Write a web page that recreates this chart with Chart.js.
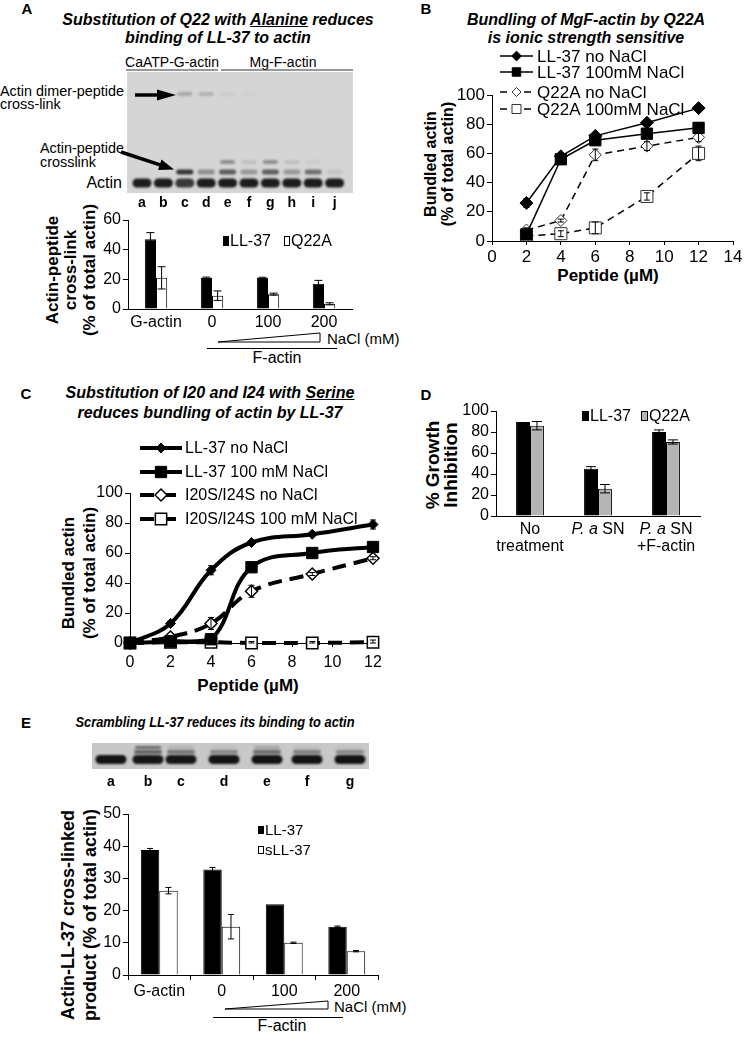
<!DOCTYPE html>
<html>
<head>
<meta charset="utf-8">
<title>LL-37 / actin figure</title>
<script src="https://cdn.jsdelivr.net/npm/chart.js@4.4.1/dist/chart.umd.min.js"></script>
<style>
  body { margin:0; width:745px; height:1037px; position:relative; overflow:hidden; background:#fff; color:#000;
         font-family:'Liberation Sans', Arial, sans-serif; }
  .c { position:absolute; white-space:nowrap; line-height:1; transform:translate(-50%,-50%); }
  .l { position:absolute; white-space:nowrap; line-height:1; transform:translateY(-50%); }
  .r { position:absolute; white-space:nowrap; line-height:1; transform:translate(-100%,-50%); }
  .yt { position:absolute; white-space:nowrap; line-height:1; font-weight:bold;
        transform:translate(-50%,-50%) rotate(-90deg); }
  .ttl { font-weight:bold; font-style:italic; font-size:16px; }
  .pl { font-weight:bold; font-size:15px; }
  .lane { font-weight:bold; font-size:14px; }
  canvas, svg { position:absolute; }
</style>
</head>
<body>

<!-- panel letters and titles -->
<div class="c pl" style="left:27px;top:8px">A</div>
<div class="c pl" style="left:426px;top:8px">B</div>
<div class="c pl" style="left:26px;top:393px">C</div>
<div class="c pl" style="left:426px;top:394px">D</div>
<div class="c pl" style="left:26px;top:722px">E</div>

<div class="c ttl" style="left:218px;top:20px">Substitution of Q22 with <u>Alanine</u> reduces</div>
<div class="c ttl" style="left:218px;top:38px">binding of LL-37 to actin</div>
<div class="c ttl" style="left:586px;top:20px">Bundling of MgF-actin by Q22A</div>
<div class="c ttl" style="left:586px;top:38px">is ionic strength sensitive</div>
<div class="c ttl" style="left:210px;top:393px">Substitution of I20 and I24 with <u>Serine</u></div>
<div class="c ttl" style="left:210px;top:413px">reduces bundling of actin by LL-37</div>
<div class="c ttl" style="left:215px;top:722px;font-size:14px;transform:translate(-50%,-50%) scaleX(0.92)">Scrambling LL-37 reduces its binding to actin</div>

<!-- gel A labels -->
<div class="c" style="left:172px;top:62px;font-size:14px">CaATP-G-actin</div>
<div class="c" style="left:283px;top:62px;font-size:14px">Mg-F-actin</div>
<div class="l" style="left:0px;top:91px;font-size:14.4px">Actin dimer-peptide</div>
<div class="l" style="left:0px;top:104px;font-size:14.4px">cross-link</div>
<div class="l" style="left:40px;top:148px;font-size:14.4px">Actin-peptide</div>
<div class="l" style="left:40px;top:162px;font-size:14.4px">crosslink</div>
<div class="r" style="left:122px;top:183px;font-size:16px">Actin</div>

<!-- axis titles -->
<div class="yt" style="left:52px;top:270px;font-size:17px">Actin-peptide</div>
<div class="yt" style="left:70px;top:270px;font-size:17px">cross-link</div>
<div class="yt" style="left:89px;top:270px;font-size:17px">(% of total actin)</div>

<div class="yt" style="left:431px;top:164px;font-size:16px">Bundled actin</div>
<div class="yt" style="left:448px;top:164px;font-size:16px">(% of total actin)</div>
<div class="c" style="left:608px;top:275px;font-size:17px;font-weight:bold">Peptide (µM)</div>

<div class="yt" style="left:68px;top:573px;font-size:17px">Bundled actin</div>
<div class="yt" style="left:89px;top:573px;font-size:17px">(% of total actin)</div>
<div class="c" style="left:248px;top:685px;font-size:17px;font-weight:bold">Peptide (µM)</div>

<div class="yt" style="left:432px;top:465px;font-size:19px">% Growth</div>
<div class="yt" style="left:450px;top:465px;font-size:19px">Inhibition</div>

<div class="yt" style="left:68px;top:915px;font-size:18px">Actin-LL-37 cross-linked</div>
<div class="yt" style="left:90px;top:915px;font-size:18px">product (% of total actin)</div>

<!-- NaCl / F-actin annotations -->
<div class="l" style="left:327px;top:338px;font-size:15px">NaCl (mM)</div>
<div class="c" style="left:277px;top:358px;font-size:16px">F-actin</div>
<div class="l" style="left:334px;top:1006px;font-size:15px">NaCl (mM)</div>
<div class="c" style="left:282px;top:1026px;font-size:16px">F-actin</div>

<canvas id="gelA" width="226" height="121" style="left:127px;top:72px"></canvas>
<canvas id="gelE" width="277" height="26" style="left:92px;top:743px"></canvas>

<canvas id="chartA" width="320" height="135" style="left:40px;top:200px"></canvas>
<canvas id="chartB" width="293" height="222" style="left:452px;top:45px"></canvas>
<canvas id="chartC" width="310" height="231" style="left:85px;top:440px"></canvas>
<canvas id="chartD" width="265" height="163" style="left:455px;top:395px"></canvas>
<canvas id="chartE" width="310" height="203" style="left:85px;top:800px"></canvas>

<svg width="745" height="1037" style="left:0;top:0;pointer-events:none">
  <line x1="126" y1="70" x2="218" y2="70" stroke="#333" stroke-width="1"/>
  <line x1="221" y1="70" x2="353" y2="70" stroke="#333" stroke-width="1"/>
  <line x1="135" y1="95" x2="159" y2="95" stroke="#000" stroke-width="3.5"/>
  <polygon points="157,89.5 176,95 157,100.5" fill="#000"/>
  <line x1="121" y1="152" x2="160" y2="164.8" stroke="#000" stroke-width="3.5"/>
  <polygon points="158,170 174,169.5 161.5,159.6" fill="#000"/>
  <polygon points="218,342 320,342 320,333" fill="#fff" stroke="#000" stroke-width="1"/>
  <line x1="207" y1="348.5" x2="337" y2="348.5" stroke="#000" stroke-width="1"/>
  <polygon points="225,1009 328,1009 328,1001" fill="#fff" stroke="#000" stroke-width="1"/>
  <line x1="213" y1="1017.5" x2="343" y2="1017.5" stroke="#000" stroke-width="1"/>
</svg>

<script>
// ===== data =====
// A: actin-peptide cross-link (% of total actin)
const catA = ['G-actin', '0', '100', '200'];
const ll37A = [47, 21, 21, 17];
const ll37AErr = [4.5, 0.5, 0.4, 2.3];
const q22aA = [21, 9, 10, 3.5];
const q22aAErr = [7.5, 3.2, 0.7, 0.7];

// B: bundled actin vs peptide (µM)
const peptideB = [2, 4, 6, 9, 12];
const ll37NoB = [26, 58, 72, 81, 91];
const ll37NoBErr = [3, 1, 1.5, 1, 1];
const ll37SaltB = [4.5, 56, 69, 73.5, 77.5];
const ll37SaltBErr = [1, 1, 1, 1, 1];
const q22aNoB = [7.5, 14, 59, 65, 71];
const q22aNoBErr = [1.5, 1, 4, 3, 3];
const q22aSaltB = [3.5, 5, 9, 30.5, 60];
const q22aSaltBErr = [1, 2, 4, 2.5, 5];
const xTicksB = [0, 14, 2];
const yTicksB = [0, 100, 20];

// C: bundled actin, I20S/I24S
const peptideC = [0, 2, 4, 6, 9, 12];
const ll37NoC = [0, 13, 48.5, 67, 72.5, 79];
const ll37NoCErr = [0, 1.5, 3, 1, 1, 3];
const ll37SaltC = [0, 1, 2.5, 50.5, 60, 64];
const ll37SaltCErr = [0, 0.5, 1, 1, 1, 1];
const i20sNoC = [0, 4, 13, 34.5, 46, 56.5];
const i20sNoCErr = [0, 1, 4, 4, 1, 1];
const i20sSaltC = [0, 0.5, 0.5, 0, 0, 0.5];
const i20sSaltCErr = [0, 0, 0, 1, 1, 1.5];

// D: % growth inhibition
const catD = [['No', 'treatment'], ['P. a SN'], ['P. a SN', '+F-actin']];
const ll37D = [89.5, 45, 80];
const ll37DErr = [0, 2, 2];
const q22aD = [86, 26, 70.5];
const q22aDErr = [4, 4, 2];

// E: actin-LL-37 cross-linked product
const catE = ['G-actin', '0', '100', '200'];
const ll37E = [38.8, 32.8, 22, 15];
const ll37EErr = [0.5, 0.6, 0, 0.2];
const sll37E = [26.2, 15, 10, 7.4];
const sll37EErr = [1, 3.8, 0.2, 0.2];

// gel band intensities (0..1)
const gelALanes = ['a', 'b', 'c', 'd', 'e', 'f', 'g', 'h', 'i', 'j'];
const gelAActin = [0.92, 0.92, 0.78, 0.92, 0.92, 0.92, 0.92, 0.92, 0.92, 0.92];
const gelAXlink = [0, 0, 0.8, 0.35, 0.6, 0.3, 0.6, 0.3, 0.5, 0.08];
const gelAUpper = [0, 0, 0, 0, 0.35, 0.1, 0.35, 0.1, 0.05, 0];
const gelADimer = [0, 0, 0.22, 0.18, 0.05, 0.03, 0, 0, 0, 0];

const gelELanes = ['a', 'b', 'c', 'd', 'e', 'f', 'g'];
const gelEMain = [0.97, 0.95, 0.95, 0.97, 0.97, 0.97, 0.97];
const gelESecond = [0, 0.55, 0.45, 0.35, 0.5, 0.4, 0.35];
const gelETop = [0, 0.5, 0.12, 0.05, 0.2, 0.06, 0.03];

// ===== gels =====
function band(ctx, cx, cy, w, h, a) {
  if (a <= 0) return;
  ctx.save();
  ctx.filter = 'blur(1px)';
  ctx.fillStyle = 'rgba(12,12,12,' + a + ')';
  ctx.beginPath();
  if (ctx.roundRect) ctx.roundRect(cx - w / 2, cy - h / 2, w, h, h / 2);
  else ctx.ellipse(cx, cy, w / 2, h / 2, 0, 0, Math.PI * 2);
  ctx.fill();
  ctx.restore();
}

function laneLabel(txt, x, y) {
  const d = document.createElement('div');
  d.className = 'c lane';
  d.style.left = x + 'px';
  d.style.top = y + 'px';
  d.textContent = txt;
  document.body.appendChild(d);
}

(function drawGelA() {
  const ctx = document.getElementById('gelA').getContext('2d');
  ctx.fillStyle = '#d5d5d5';
  ctx.fillRect(0, 0, 226, 121);
  gelALanes.forEach((lane, i) => {
    const x = 15 + i * 21.4;
    band(ctx, x, 111, 19, 9, gelAActin[i]);
    band(ctx, x, 100, 17, 5, gelAXlink[i]);
    band(ctx, x, 90, 15, 4, gelAUpper[i]);
    band(ctx, x, 22, 15, 4, gelADimer[i]);
    laneLabel(lane, 127 + x, 202);
  });
})();

(function drawGelE() {
  const ctx = document.getElementById('gelE').getContext('2d');
  const laneX = [19, 56, 89, 132, 175, 215, 258];
  ctx.fillStyle = '#c8c8c8';
  ctx.fillRect(0, 0, 277, 26);
  gelELanes.forEach((lane, i) => {
    band(ctx, laneX[i], 16.5, 31, 9, gelEMain[i]);
    band(ctx, laneX[i], 9, 28, 4, gelESecond[i]);
    band(ctx, laneX[i], 4.5, 26, 3, gelETop[i]);
    laneLabel(lane, 92 + laneX[i], 781);
  });
})();

// ===== chart helpers =====
Chart.defaults.font.family = "'Liberation Sans', Arial, sans-serif";
Chart.defaults.color = '#000';

const pts = (xs, ys) => xs.map((x, i) => ({ x: x, y: ys[i] }));

function drawMarker(ctx, ds, x, y) {
  const opts = { pointStyle: ds.pointStyle, radius: ds.pointRadius, rotation: 0, borderWidth: ds.pointBorderWidth };
  if (Chart.helpers && Chart.helpers.drawPoint) {
    Chart.helpers.drawPoint(ctx, opts, x, y);
    return;
  }
  const r = ds.pointRadius;
  ctx.beginPath();
  if (ds.pointStyle === 'rect') {
    const s = r * Math.SQRT1_2;
    ctx.rect(x - s, y - s, 2 * s, 2 * s);
  } else {
    ctx.moveTo(x - r, y); ctx.lineTo(x, y - r); ctx.lineTo(x + r, y); ctx.lineTo(x, y + r); ctx.closePath();
  }
  ctx.fill();
  ctx.stroke();
}

const errorBars = {
  id: 'errorBars',
  afterDatasetsDraw(chart, args, opts) {
    const ctx = chart.ctx, ys = chart.scales.y;
    const cap = (opts && opts.cap) || 4;
    chart.data.datasets.forEach((ds, i) => {
      if (!ds.errors) return;
      const meta = chart.getDatasetMeta(i);
      ctx.save();
      ctx.strokeStyle = '#000';
      ctx.lineWidth = 1;
      meta.data.forEach((el, j) => {
        const e = ds.errors[j];
        if (!e) return;
        const raw = ds.data[j];
        const v = typeof raw === 'object' ? raw.y : raw;
        const top = ys.getPixelForValue(v + e);
        const bot = ys.getPixelForValue(Math.max(v - e, 0));
        ctx.beginPath();
        ctx.moveTo(el.x, top); ctx.lineTo(el.x, bot);
        ctx.moveTo(el.x - cap, top); ctx.lineTo(el.x + cap, top);
        ctx.moveTo(el.x - cap, bot); ctx.lineTo(el.x + cap, bot);
        ctx.stroke();
      });
      ctx.restore();
    });
  }
};

const boxLegend = {
  id: 'boxLegend',
  afterDraw(chart, args, opts) {
    if (!opts || !opts.items) return;
    const ctx = chart.ctx;
    ctx.save();
    ctx.font = opts.font;
    ctx.textBaseline = 'middle';
    chart.data.datasets.forEach((ds, i) => {
      const it = opts.items[i];
      ctx.fillStyle = ds.backgroundColor;
      ctx.fillRect(it.x, it.y - opts.h / 2, opts.w, opts.h);
      ctx.strokeStyle = '#000';
      ctx.lineWidth = 1;
      ctx.strokeRect(it.x + 0.5, it.y - opts.h / 2 + 0.5, opts.w - 1, opts.h - 1);
      ctx.fillStyle = '#000';
      ctx.fillText(ds.label, it.x + opts.w + 1, it.y + 1);
    });
    ctx.restore();
  }
};

const lineLegend = {
  id: 'lineLegend',
  afterDraw(chart, args, opts) {
    if (!opts || !opts.rows) return;
    const ctx = chart.ctx;
    chart.data.datasets.forEach((ds, i) => {
      const y = opts.rows[i];
      ctx.save();
      ctx.strokeStyle = ds.borderColor;
      ctx.lineWidth = ds.borderWidth;
      ctx.setLineDash(ds.borderDash || []);
      ctx.beginPath();
      ctx.moveTo(opts.x1, y); ctx.lineTo(opts.x2, y);
      ctx.stroke();
      ctx.setLineDash([]);
      ctx.fillStyle = ds.pointBackgroundColor;
      ctx.strokeStyle = ds.pointBorderColor;
      ctx.lineWidth = ds.pointBorderWidth;
      drawMarker(ctx, Object.assign({}, ds, { pointRadius: ds.pointRadius * (opts.scale || 1) }), (opts.x1 + opts.x2) / 2, y);
      ctx.fillStyle = '#000';
      ctx.font = opts.font;
      ctx.textBaseline = 'middle';
      ctx.fillText(ds.label, opts.tx, y + 1);
      ctx.restore();
    });
  }
};

// category labels with an italic prefix (panel D)
const richTicks = {
  id: 'richTicks',
  afterDraw(chart, args, opts) {
    if (!opts || !opts.rows) return;
    const ctx = chart.ctx, xs = chart.scales.x;
    const base = opts.size + "px 'Liberation Sans', Arial, sans-serif";
    const ital = 'italic ' + base;
    ctx.save();
    ctx.fillStyle = '#000';
    ctx.textBaseline = 'middle';
    chart.data.labels.forEach((lab, i) => {
      const cx = xs.getPixelForValue(i);
      lab.forEach((line, k) => {
        const y = opts.rows[k];
        let head = '', tail = line;
        if (line.indexOf(opts.italic) === 0) { head = opts.italic; tail = line.slice(opts.italic.length); }
        ctx.font = ital; const wh = ctx.measureText(head).width;
        ctx.font = base; const wt = ctx.measureText(tail).width;
        const x = cx - (wh + wt) / 2;
        ctx.textAlign = 'left';
        ctx.font = ital; ctx.fillText(head, x, y);
        ctx.font = base; ctx.fillText(tail, x + wh, y);
      });
    });
    ctx.restore();
  }
};

function valAxis(min, max, step, width, size) {
  return {
    min: min, max: max,
    grid: { drawOnChartArea: false, color: '#000', tickLength: 5 },
    border: { color: '#000', width: 1 },
    ticks: { stepSize: step, color: '#000', font: { size: size }, padding: 2, autoSkip: false },
    afterFit(s) { s.width = width; }
  };
}

function catAxis(height, size, showTicks, pad) {
  return {
    grid: { display: showTicks, drawTicks: showTicks, drawOnChartArea: false, color: '#000', tickLength: 5 },
    border: { display: true, color: '#000', width: 1 },
    ticks: { color: '#000', font: { size: size }, padding: pad, maxRotation: 0, autoSkip: false },
    afterFit(s) { s.height = height; }
  };
}

function linAxis(min, max, step, height, size, pad) {
  return {
    type: 'linear', min: min, max: max,
    grid: { drawOnChartArea: false, color: '#000', tickLength: 4 },
    border: { color: '#000', width: 1 },
    ticks: { stepSize: step, color: '#000', font: { size: size }, padding: pad, autoSkip: false },
    afterFit(s) { s.height = height; }
  };
}

const baseOpts = (pad) => ({
  responsive: false,
  animation: false,
  events: [],
  layout: { autoPadding: false, padding: pad }
});

// ===== A =====
new Chart(document.getElementById('chartA'), {
  type: 'bar',
  data: {
    labels: catA,
    datasets: [
      { label: 'LL-37', data: ll37A, errors: ll37AErr, backgroundColor: '#000', borderColor: '#000', borderWidth: 1,
        categoryPercentage: 0.4, barPercentage: 1 },
      { label: 'Q22A', data: q22aA, errors: q22aAErr, backgroundColor: '#fff', borderColor: '#000', borderWidth: 1,
        categoryPercentage: 0.4, barPercentage: 1 }
    ]
  },
  options: Object.assign(baseOpts({ top: 20, right: 8, left: 0, bottom: 0 }), {
    plugins: {
      legend: { display: false }, tooltip: { enabled: false },
      errorBars: { cap: 4 },
      boxLegend: { w: 6, h: 10, font: "16px 'Liberation Sans', Arial, sans-serif", items: [{ x: 183, y: 41 }, { x: 244, y: 41 }] }
    },
    scales: { x: catAxis(26, 16, false, 4), y: valAxis(0, 60, 20, 88, 16) }
  }),
  plugins: [errorBars, boxLegend]
});

// ===== B =====
new Chart(document.getElementById('chartB'), {
  type: 'line',
  data: {
    datasets: [
      { label: 'LL-37 no NaCl', data: pts(peptideB, ll37NoB), errors: ll37NoBErr, borderColor: '#000', borderWidth: 1.5,
        pointStyle: 'rectRot', pointRadius: 6.5, pointBackgroundColor: '#000', pointBorderColor: '#000', pointBorderWidth: 1, tension: 0 },
      { label: 'LL-37 100mM NaCl', data: pts(peptideB, ll37SaltB), errors: ll37SaltBErr, borderColor: '#000', borderWidth: 1.5,
        pointStyle: 'rect', pointRadius: 8, pointBackgroundColor: '#000', pointBorderColor: '#000', pointBorderWidth: 1, tension: 0 },
      { label: 'Q22A no NaCl', data: pts(peptideB, q22aNoB), errors: q22aNoBErr, borderColor: '#000', borderWidth: 1.5, borderDash: [7, 5],
        pointStyle: 'rectRot', pointRadius: 6, pointBackgroundColor: '#fff', pointBorderColor: '#333', pointBorderWidth: 1, tension: 0 },
      { label: 'Q22A 100mM NaCl', data: pts(peptideB, q22aSaltB), errors: q22aSaltBErr, borderColor: '#000', borderWidth: 1.5, borderDash: [7, 5],
        pointStyle: 'rect', pointRadius: 8.5, pointBackgroundColor: '#fff', pointBorderColor: '#333', pointBorderWidth: 1, tension: 0 }
    ]
  },
  options: Object.assign(baseOpts({ top: 50, right: 12, left: 0, bottom: 0 }), {
    plugins: {
      legend: { display: false }, tooltip: { enabled: false },
      errorBars: { cap: 3 },
      lineLegend: { x1: 48, x2: 81, tx: 85, rows: [11, 27, 47, 64], scale: 0.75, font: "17px 'Liberation Sans', Arial, sans-serif" }
    },
    scales: {
      x: linAxis(xTicksB[0], xTicksB[1], xTicksB[2], 26, 17, 2),
      y: valAxis(yTicksB[0], yTicksB[1], yTicksB[2], 40, 17)
    }
  }),
  plugins: [errorBars, lineLegend]
});

// ===== C =====
new Chart(document.getElementById('chartC'), {
  type: 'line',
  data: {
    datasets: [
      { label: 'LL-37 no NaCl', data: pts(peptideC, ll37NoC), errors: ll37NoCErr, borderColor: '#000', borderWidth: 4,
        pointStyle: 'rectRot', pointRadius: 5, pointBackgroundColor: '#000', pointBorderColor: '#000', pointBorderWidth: 1, tension: 0.4, clip: false },
      { label: 'LL-37 100 mM NaCl', data: pts(peptideC, ll37SaltC), errors: ll37SaltCErr, borderColor: '#000', borderWidth: 4,
        pointStyle: 'rect', pointRadius: 8, pointBackgroundColor: '#000', pointBorderColor: '#000', pointBorderWidth: 1, tension: 0.4, clip: false },
      { label: 'I20S/I24S no NaCl', data: pts(peptideC, i20sNoC), errors: i20sNoCErr, borderColor: '#000', borderWidth: 4, borderDash: [14, 8],
        pointStyle: 'rectRot', pointRadius: 6, pointBackgroundColor: '#fff', pointBorderColor: '#000', pointBorderWidth: 1.5, tension: 0.4, clip: false },
      { label: 'I20S/I24S 100 mM NaCl', data: pts(peptideC, i20sSaltC), errors: i20sSaltCErr, borderColor: '#000', borderWidth: 4, borderDash: [14, 8],
        pointStyle: 'rect', pointRadius: 8, pointBackgroundColor: '#fff', pointBorderColor: '#000', pointBorderWidth: 1.5, tension: 0.4, clip: false }
    ]
  },
  options: Object.assign(baseOpts({ top: 53, right: 22, left: 0, bottom: 0 }), {
    plugins: {
      legend: { display: false }, tooltip: { enabled: false },
      errorBars: { cap: 3 },
      lineLegend: { x1: 55, x2: 97, tx: 100, rows: [8, 32, 55, 79], scale: 1, font: "16px 'Liberation Sans', Arial, sans-serif" }
    },
    scales: {
      x: linAxis(0, 12, 2, 28, 16, 6),
      y: valAxis(0, 100, 20, 45, 16)
    }
  }),
  plugins: [errorBars, lineLegend]
});

// ===== D =====
new Chart(document.getElementById('chartD'), {
  type: 'bar',
  data: {
    labels: catD,
    datasets: [
      { label: 'LL-37', data: ll37D, errors: ll37DErr, backgroundColor: '#000', borderColor: '#000', borderWidth: 1,
        categoryPercentage: 0.41, barPercentage: 1 },
      { label: 'Q22A', data: q22aD, errors: q22aDErr, backgroundColor: '#b4b4b4', borderColor: '#000', borderWidth: 1,
        categoryPercentage: 0.41, barPercentage: 1 }
    ]
  },
  options: Object.assign(baseOpts({ top: 16, right: 20, left: 0, bottom: 0 }), {
    plugins: {
      legend: { display: false }, tooltip: { enabled: false },
      errorBars: { cap: 5 },
      boxLegend: { w: 7, h: 10, font: "16px 'Liberation Sans', Arial, sans-serif", items: [{ x: 127, y: 21 }, { x: 186, y: 21 }] },
      richTicks: { rows: [135, 152], size: 16, italic: 'P. a' }
    },
    scales: {
      x: Object.assign(catAxis(42, 16, false, 4), { ticks: { display: false } }),
      y: valAxis(0, 100, 20, 41, 16)
    }
  }),
  plugins: [errorBars, boxLegend, richTicks]
});

// ===== E =====
new Chart(document.getElementById('chartE'), {
  type: 'bar',
  data: {
    labels: catE,
    datasets: [
      { label: 'LL-37', data: ll37E, errors: ll37EErr, backgroundColor: '#000', borderColor: '#000', borderWidth: 1,
        categoryPercentage: 0.59, barPercentage: 1 },
      { label: 'sLL-37', data: sll37E, errors: sll37EErr, backgroundColor: '#fff', borderColor: '#000', borderWidth: 1,
        categoryPercentage: 0.59, barPercentage: 1 }
    ]
  },
  options: Object.assign(baseOpts({ top: 14, right: 17, left: 0, bottom: 0 }), {
    plugins: {
      legend: { display: false }, tooltip: { enabled: false },
      errorBars: { cap: 3 },
      boxLegend: { w: 6, h: 8, font: "15px 'Liberation Sans', Arial, sans-serif", items: [{ x: 173, y: 30 }, { x: 173, y: 50 }] }
    },
    scales: { x: catAxis(28, 16, true, 2), y: valAxis(0, 50, 10, 43, 16) }
  }),
  plugins: [errorBars, boxLegend]
});
</script>
</body>
</html>
